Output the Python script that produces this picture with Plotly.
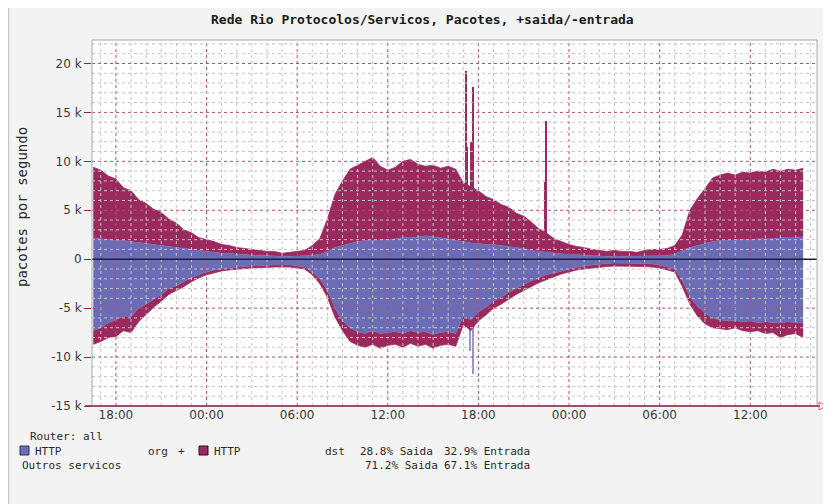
import plotly.graph_objects as go
from datetime import datetime, timedelta

# ---------------- data (k pacotes/s), 30-min samples from 2024-01-01 16:30 ----------------
START = datetime(2024, 1, 1, 16, 30)
STEP_MIN = 30

saida_total = [9.4, 9.1, 8.5, 8.2, 7.3, 7.0, 6.1, 5.7, 5.1, 4.8,
               4.1, 3.7, 3.0, 2.7, 2.2, 2.0, 1.8, 1.5, 1.4, 1.2,
               1.1, 1.0, 0.9, 0.8, 0.8, 0.6, 0.7, 0.8, 0.9, 1.4,
               2.1, 4.1, 6.6, 8.0, 9.2, 9.6, 10.0, 10.4, 9.5, 9.1,
               9.4, 10.0, 10.2, 9.7, 9.5, 9.6, 9.3, 9.5, 9.2, 7.8,
               7.4, 7.0, 6.4, 6.1, 5.6, 5.3, 4.7, 4.4, 3.8, 3.1,
               2.7, 2.1, 1.8, 1.5, 1.3, 1.2, 1.0, 0.9, 0.8, 0.9,
               0.8, 0.8, 0.7, 0.9, 1.0, 1.0, 1.1, 1.4, 2.5, 5.0,
               6.2, 7.2, 8.3, 8.6, 8.8, 8.6, 8.9, 8.8, 9.0, 8.9,
               9.2, 9.0, 9.2, 9.1, 9.3]

saida_http = [2.2, 2.1, 2.0, 1.9, 1.9, 1.8, 1.7, 1.6, 1.5, 1.4,
              1.3, 1.2, 1.1, 1.0, 0.9, 0.8, 0.7, 0.6, 0.6, 0.5,
              0.5, 0.4, 0.4, 0.35, 0.3, 0.3, 0.3, 0.3, 0.35, 0.4,
              0.5, 0.8, 1.2, 1.4, 1.6, 1.8, 1.9, 1.9, 2.0, 2.0,
              2.1, 2.2, 2.2, 2.3, 2.4, 2.3, 2.2, 2.1, 1.9, 1.8,
              1.7, 1.6, 1.5, 1.5, 1.4, 1.3, 1.2, 1.1, 0.9, 0.8,
              0.7, 0.6, 0.55, 0.5, 0.45, 0.4, 0.4, 0.35, 0.3, 0.3,
              0.3, 0.3, 0.3, 0.3, 0.35, 0.35, 0.4, 0.5, 0.9, 1.2,
              1.4, 1.6, 1.8, 1.9, 1.9, 2.0, 2.0, 2.0, 2.1, 2.1,
              2.1, 2.2, 2.2, 2.2, 2.3]

entrada_http = [-7.3, -7.0, -6.5, -6.2, -5.8, -5.9, -5.0, -4.6, -4.1, -3.6,
                -3.0, -2.7, -2.3, -1.9, -1.6, -1.3, -1.1, -1.0, -0.9, -0.8,
                -0.75, -0.7, -0.65, -0.6, -0.6, -0.6, -0.6, -0.7, -0.8, -1.3,
                -2.0, -3.2, -5.0, -6.3, -7.0, -7.4, -7.6, -7.3, -7.6, -7.5,
                -7.4, -7.6, -7.3, -7.5, -7.4, -7.7, -7.5, -7.4, -7.6, -5.8,
                -6.2, -5.4, -4.9, -4.3, -3.9, -3.4, -3.0, -2.6, -2.2, -1.9,
                -1.6, -1.4, -1.2, -1.0, -0.85, -0.7, -0.6, -0.5, -0.45, -0.4,
                -0.4, -0.4, -0.4, -0.45, -0.5, -0.6, -0.8, -1.0, -2.2, -3.8,
                -4.8, -5.5, -6.0, -6.2, -6.3, -6.3, -6.4, -6.3, -6.5, -6.4,
                -6.5, -6.5, -6.4, -6.5, -6.5]

entrada_total = [-8.7, -8.4, -8.0, -7.9, -7.3, -7.5, -6.4, -5.6, -4.9, -4.3,
                 -3.6, -3.2, -2.8, -2.3, -1.9, -1.6, -1.4, -1.2, -1.1, -1.0,
                 -0.95, -0.9, -0.85, -0.85, -0.8, -0.8, -0.8, -0.9, -1.0, -1.6,
                 -2.5, -3.9, -5.9, -7.3, -8.4, -8.8, -9.0, -8.7, -9.1, -8.8,
                 -8.7, -9.0, -8.6, -8.9, -8.7, -9.1, -8.8, -8.7, -8.9, -6.7,
                 -7.3, -6.3, -5.7, -5.0, -4.6, -4.1, -3.6, -3.2, -2.8, -2.4,
                 -2.1, -1.8, -1.5, -1.3, -1.1, -1.0, -0.9, -0.8, -0.75, -0.7,
                 -0.7, -0.7, -0.7, -0.75, -0.8, -0.9, -1.1, -1.3, -2.8, -4.6,
                 -5.8, -6.6, -7.0, -7.1, -7.2, -7.0, -7.3, -7.4, -7.3, -7.6,
                 -7.5, -8.0, -7.7, -7.6, -8.0]

spike_times = ["2024-01-02 17:11", "2024-01-02 17:17", "2024-01-02 17:38",
               "2024-01-02 17:34", "2024-01-02 22:29", "2024-01-02 22:27"]
spike_vals = [19.2, 11.5, 17.6, 12.0, 14.1, 7.9]
neg_spike_times = ["2024-01-02 17:40", "2024-01-02 17:26"]
neg_spike_vals = [-11.7, -9.4]

y_tickvals = [-15, -10, -5, 0, 5, 10, 15, 20]
y_ticktext = ["-15 k", "-10 k", "-5 k", "0", "5 k", "10 k", "15 k", "20 k"]

times = [START + timedelta(minutes=STEP_MIN * i) for i in range(len(saida_total))]

# ---------------- style ----------------
BLUE = "#6c6cb6"
RED = "#9a2a5e"
OFF = 8                      # page body margin of the html
W_, H_ = 831 - OFF, 504 - OFF
# plot area in page pixels
PL, PR, PT, PB = 92, 817, 40, 406
L, R, T, B = PL - OFF, PR - OFF, PT - OFF, PB - OFF
PW, PH = R - L, B - T


def px(x):
    """page x pixel -> paper coordinate"""
    return (x - OFF - L) / PW


def py(y):
    """page y pixel -> paper coordinate"""
    return (B - (y - OFF)) / PH


X0, X1 = "2024-01-01 16:25", "2024-01-03 16:25"

fig = go.Figure()
fig.add_trace(go.Bar(x=spike_times, y=spike_vals, width=420000,
                     marker=dict(color=RED, line=dict(width=0)), hoverinfo="skip"))
fig.add_trace(go.Bar(x=neg_spike_times, y=neg_spike_vals, width=300000,
                     marker=dict(color="#9a96c4", line=dict(width=0)), hoverinfo="skip"))
fig.add_trace(go.Scatter(x=times, y=saida_http, mode="lines", fill="tozeroy",
                         line=dict(color=BLUE, width=0.5), fillcolor=BLUE, name="HTTP org"))
fig.add_trace(go.Scatter(x=times, y=saida_total, mode="lines", fill="tonexty",
                         line=dict(color=RED, width=0.8), fillcolor=RED, name="HTTP dst"))
fig.add_trace(go.Scatter(x=times, y=entrada_http, mode="lines", fill="tozeroy",
                         line=dict(color=BLUE, width=0.5), fillcolor=BLUE, showlegend=False))
fig.add_trace(go.Scatter(x=times, y=entrada_total, mode="lines", fill="tonexty",
                         line=dict(color=RED, width=0.8), fillcolor=RED, showlegend=False))

shapes = []
# image border at left
shapes.append(dict(type="line", xref="paper", yref="paper", x0=px(8.5), x1=px(8.5), y0=py(504), y1=py(8),
                   line=dict(color="#c8c8c8", width=1.5)))

# grid drawn above data (like rrdtool)
MINOR = dict(color="#c2c2c2", width=1, dash="dot")
MAJOR = dict(color="#b0506e", width=1, dash="dot")
t = datetime(2024, 1, 1, 17, 0)
while t < datetime(2024, 1, 3, 16, 25):
    style = MAJOR if t.hour % 6 == 0 else MINOR
    shapes.append(dict(type="line", xref="x", yref="paper", x0=t, x1=t, y0=0, y1=1,
                       line=style, layer="above"))
    t += timedelta(hours=1)
for v in range(-14, 23):
    if v == 0:
        continue
    style = MAJOR if v % 5 == 0 else MINOR
    shapes.append(dict(type="line", xref="paper", yref="y", x0=0, x1=1, y0=v, y1=v,
                       line=style, layer="above"))
# zero line
shapes.append(dict(type="line", xref="paper", yref="y", x0=0, x1=1, y0=0, y1=0,
                   line=dict(color="#1c1c3c", width=1.5), layer="above"))
# frame
shapes.append(dict(type="rect", xref="paper", yref="paper", x0=0, x1=1, y0=0, y1=1,
                   line=dict(color="#a8a8a8", width=1), layer="above"))
# bottom axis with arrow
shapes.append(dict(type="line", xref="paper", yref="paper", x0=px(85), x1=px(820), y0=0, y1=0,
                   line=dict(color="#8a2346", width=1.5), layer="above"))
shapes.append(dict(type="path", xref="paper", yref="paper",
                   path=f"M {px(819)} {py(402)} L {px(826)} {py(406)} L {px(819)} {py(410)} Z",
                   line=dict(color="#e0607a", width=1), fillcolor="rgba(0,0,0,0)", layer="above"))

MONO = "DejaVu Sans Mono"
TXT = "#2a2a2a"
ann = []
ann.append(dict(text="<b>Rede Rio Protocolos/Servicos, Pacotes, +saida/-entrada</b>",
                xref="paper", yref="paper", x=px(422), y=py(20), xanchor="center", yanchor="middle",
                showarrow=False, font=dict(family=MONO, size=13, color="#1a1a1a")))
ann.append(dict(text="pacotes por segundo", xref="paper", yref="paper", x=px(22), y=py(207),
                xanchor="center", yanchor="middle", textangle=-90, showarrow=False,
                font=dict(family=MONO, size=14, color=TXT)))


def label(text, x, y):
    ann.append(dict(text=text, xref="paper", yref="paper", x=px(x), y=py(y),
                    xanchor="left", yanchor="middle", showarrow=False,
                    font=dict(family=MONO, size=11, color=TXT)))


label("Router: all", 28, 436)
label("HTTP", 33, 451)
label("org", 146, 451)
label("+", 176, 451)
label("HTTP", 212, 451)
label("dst", 323, 451)
label("28.8% Saida", 358, 451)
label("32.9% Entrada", 442, 451)
label("Outros servicos", 20, 465)
label("71.2% Saida", 363, 465)
label("67.1% Entrada", 442, 465)

shapes.append(dict(type="rect", xref="paper", yref="paper", x0=px(20), x1=px(29), y0=py(455), y1=py(446),
                   fillcolor=BLUE, line=dict(color="#333355", width=1)))
shapes.append(dict(type="rect", xref="paper", yref="paper", x0=px(199), x1=px(208), y0=py(455), y1=py(446),
                   fillcolor=RED, line=dict(color="#331122", width=1)))

fig.update_layout(
    width=W_, height=H_,
    margin=dict(l=L, r=W_ - R, t=T, b=H_ - B),
    paper_bgcolor="#f3f3f3", plot_bgcolor="white",
    showlegend=False, barmode="overlay", bargap=0,
    shapes=shapes, annotations=ann,
    xaxis=dict(type="date", range=[X0, X1], showgrid=False, zeroline=False,
               tickformat="%H:%M", dtick=6 * 3600 * 1000, tick0="2024-01-01 00:00",
               ticks="", tickfont=dict(family="DejaVu Sans", size=12, color="#3a3a3a"),
               showline=False, automargin=False),
    yaxis=dict(range=[-15, 22.4], showgrid=False, zeroline=False,
               tickvals=y_tickvals, ticktext=y_ticktext,
               ticks="outside", ticklen=7, tickcolor="#8a2346", tickwidth=1,
               tickfont=dict(family="DejaVu Sans", size=12, color="#3a3a3a"),
               showline=False, automargin=False),
)

fig.write_html("out.html")
